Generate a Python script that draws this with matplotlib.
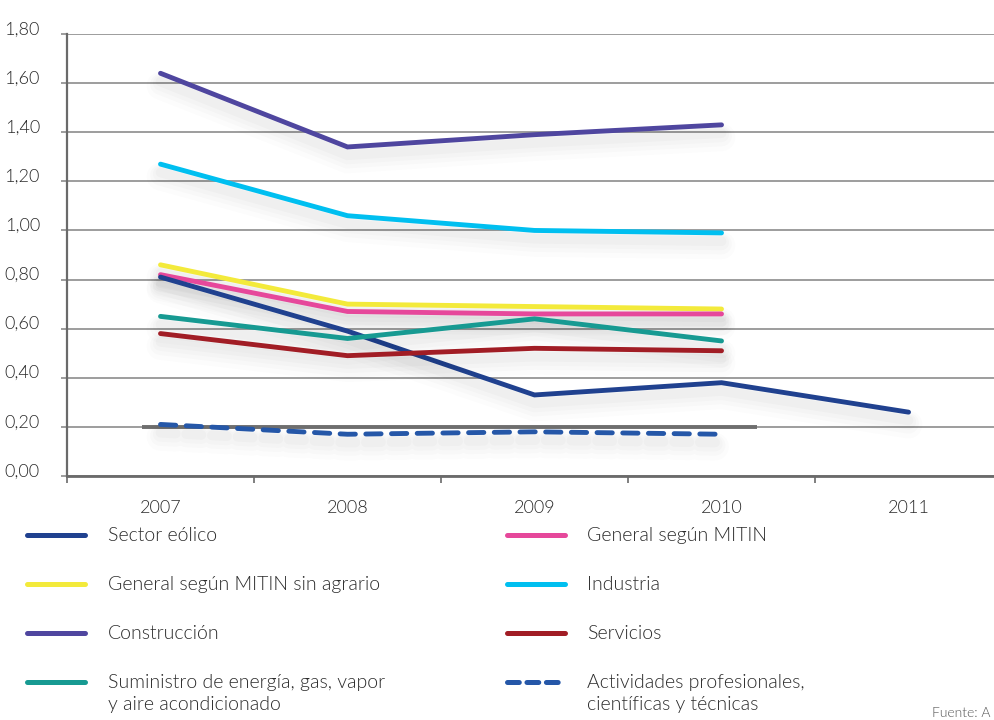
import matplotlib
matplotlib.use("Agg")
import matplotlib.pyplot as plt
from matplotlib.lines import Line2D
from matplotlib import patheffects as pe
from matplotlib.transforms import ScaledTranslation
from matplotlib import font_manager as fm

years = ["2007", "2008", "2009", "2010", "2011"]

eolico = [0.81, 0.59, 0.33, 0.38, 0.26]
general_mitin = [0.82, 0.67, 0.66, 0.66]
general_sin_agrario = [0.86, 0.70, 0.69, 0.68]
industria = [1.27, 1.06, 1.00, 0.99]
construccion = [1.64, 1.34, 1.39, 1.43]
servicios = [0.58, 0.49, 0.52, 0.51]
suministro = [0.65, 0.56, 0.64, 0.55]
actividades = [0.21, 0.17, 0.18, 0.17]

reference_level = 0.20
y_ticks = [0.0, 0.2, 0.4, 0.6, 0.8, 1.0, 1.2, 1.4, 1.6, 1.8]

names = {f.name for f in fm.fontManager.ttflist}
family = "Lato" if "Lato" in names else "DejaVu Sans"
has_300 = any(f.name == family and f.weight == 300 for f in fm.fontManager.ttflist)
plt.rcParams["font.family"] = [family, "DejaVu Sans"]
plt.rcParams["font.weight"] = 300 if has_300 else "normal"
plt.rcParams["lines.scale_dashes"] = False

TEXT = "#2b2b2b"
GRID = "#8c8c8c"
AXIS = "#6a6a6a"

fig = plt.figure(figsize=(9.94, 7.2), dpi=100)
ax = fig.add_axes([67 / 994, 1 - 476 / 720, 1 - 67 / 994, (476 - 34) / 720])
ax.set_xlim(-0.5, 4.457)
ax.set_ylim(0, 1.8)

# soft drop shadow under each series line
shadow = [pe.SimpleLineShadow(offset=(0, -off), shadow_color="#000000", alpha=a, linewidth=w)
          for off, w, a in [(9, 20, 0.012), (8, 15, 0.014), (7, 11, 0.016), (6, 7, 0.018)]]
shadow.append(pe.Normal())

series = [
    ("Sector eólico", eolico, "#20418f", "-"),
    ("General según MITIN", general_mitin, "#e6489b", "-"),
    ("General según MITIN sin agrario", general_sin_agrario, "#f3ea3b", "-"),
    ("Industria", industria, "#00bff0", "-"),
    ("Construcción", construccion, "#4f469f", "-"),
    ("Servicios", servicios, "#a11d25", "-"),
    ("Suministro de energía, gas, vapor\ny aire acondicionado", suministro, "#179a92", "-"),
    ("Actividades profesionales,\ncientíficas y técnicas", actividades, "#2557a8", "--"),
]

# reference bar at 0.20
ax.hlines(reference_level, -0.10, 3.19, color="#6e6e6e", lw=2.8, zorder=2)

draw_order = [4, 3, 2, 1, 0, 6, 5, 7]
for i in draw_order:
    label, vals, color, ls = series[i]
    xs = list(range(len(vals)))
    kw = dict(color=color, lw=3.5, solid_capstyle="round", solid_joinstyle="miter",
              zorder=3, path_effects=shadow)
    if ls == "--":
        kw.update(linestyle=(0, (11, 7.5)), dash_capstyle="round")
    ax.plot(xs, vals, **kw)

# axes styling
for s in ["top", "right"]:
    ax.spines[s].set_visible(False)
ax.spines["left"].set_color(AXIS)
ax.spines["left"].set_linewidth(1.6)
ax.spines["bottom"].set_color(AXIS)
ax.spines["bottom"].set_linewidth(2.0)

ax.set_yticks(y_ticks)
ax.set_yticklabels([f"{v:.2f}".replace(".", ",") for v in y_ticks])
ax.yaxis.grid(True, color=GRID, lw=1.2)
ax.set_axisbelow(True)
ax.tick_params(axis="y", length=4.5, width=1.2, color=GRID, pad=15,
               labelsize=13, labelcolor=TEXT)
for lab in ax.get_yticklabels():
    lab.set_transform(lab.get_transform() + ScaledTranslation(0, 6 / 100, fig.dpi_scale_trans))

ax.set_xticks(range(len(years)))
ax.set_xticklabels(years)
ax.set_xticks([k - 0.5 for k in range(len(years))], minor=True)
ax.tick_params(axis="x", which="major", length=0, pad=17, labelsize=13, labelcolor=TEXT)
ax.tick_params(axis="x", which="minor", length=5, width=1.2, color=AXIS)

# legend
legend_order = [0, 2, 4, 6, 1, 3, 5, 7]
rows_y = [535, 584, 633, 682]
cols = [(27, 85, 108), (507, 565, 587)]
W, H = 994.0, 720.0
for slot, i in enumerate(legend_order):
    label, vals, color, ls = series[i]
    col = cols[slot // 4]
    y = 1 - rows_y[slot % 4] / H
    lkw = dict(transform=fig.transFigure, color=color, lw=3.6, solid_capstyle="round")
    if ls == "--":
        lkw.update(linestyle=(0, (8.5, 5.5)), dash_capstyle="round")
    fig.add_artist(Line2D([col[0] / W, col[1] / W], [y, y], **lkw))
    fig.text(col[2] / W, y + 8 / H, label, ha="left", va="top", fontsize=14,
             color=TEXT, linespacing=1.38)

fig.text(990 / W, 1 - 713 / H, "Fuente: A", ha="right", va="center", fontsize=10, color="#555555")

fig.savefig("out.png", dpi=100)
